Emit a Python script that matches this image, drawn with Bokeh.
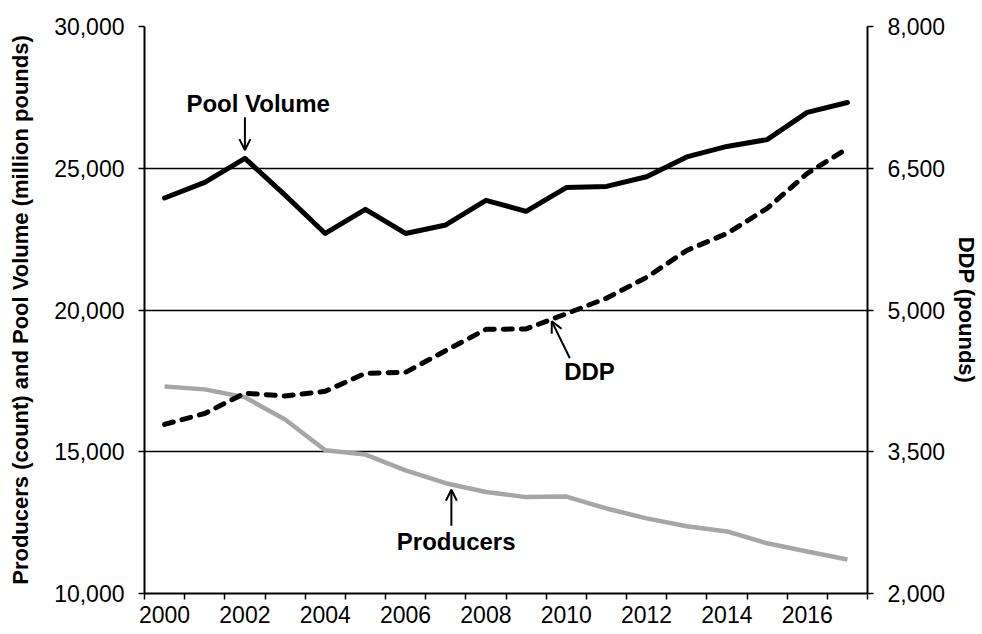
from bokeh.plotting import figure
from bokeh.models import (Range1d, LinearAxis, FixedTicker, NumeralTickFormatter,
                          Arrow, OpenHead, Label)
from bokeh.embed import file_html
from bokeh.resources import INLINE

years = list(range(2000, 2018))
pool_volume = [23950, 24500, 25350, 24050, 22700, 23550, 22700, 23000, 23870, 23480,
               24320, 24360, 24700, 25400, 25770, 26010, 26970, 27320]
ddp = [3790, 3905, 4120, 4090, 4140, 4330, 4340, 4570, 4795, 4800,
       4960, 5125, 5345, 5630, 5810, 6075, 6445, 6710]
producers = [17300, 17200, 16920, 16140, 15050, 14900, 14340, 13890, 13580, 13400,
             13420, 13000, 12650, 12370, 12190, 11770, 11480, 11200]
left_ticks = [10000, 15000, 20000, 25000, 30000]
right_ticks = [2000, 3500, 5000, 6500, 8000]
year_labels = [2000, 2002, 2004, 2006, 2008, 2010, 2012, 2014, 2016]

FONT = "Liberation Sans"

p = figure(width=982, height=634, output_backend="svg", toolbar_location=None,
           x_range=Range1d(years[0] - 0.5, years[-1] + 0.5),
           y_range=Range1d(left_ticks[0], left_ticks[-1]),
           min_border_left=144, min_border_right=112, min_border_top=26,
           min_border_bottom=41)
p.outline_line_color = None
p.background_fill_color = "white"
p.border_fill_color = "white"
p.extra_y_ranges = {"ddp": Range1d(right_ticks[0], right_ticks[-1])}

# x axis
xa = p.xaxis[0]
xa.ticker = FixedTicker(ticks=year_labels,
                        minor_ticks=[y - 0.5 for y in years] + [years[-1] + 0.5])
xa.major_tick_out = 0
xa.major_tick_in = 0
xa.minor_tick_out = 6
xa.minor_tick_in = 0
xa.minor_tick_line_color = "black"
xa.minor_tick_line_width = 1.5
xa.axis_line_color = "black"
xa.axis_line_width = 2
xa.major_label_standoff = 6
xa.major_label_text_font = FONT
xa.major_label_text_font_size = "23px"
xa.major_label_text_color = "black"

# left axis
ya = p.yaxis[0]
ya.ticker = FixedTicker(ticks=left_ticks)
ya.formatter = NumeralTickFormatter(format="0,0")
ya.minor_tick_line_color = None
ya.major_tick_out = 6
ya.major_tick_in = 0
ya.major_tick_line_width = 1.5
ya.axis_line_width = 2
ya.major_label_standoff = 14
ya.major_label_text_font = FONT
ya.major_label_text_font_size = "23px"
ya.major_label_text_color = "black"
ya.axis_label = "Producers (count) and Pool Volume (million pounds)"
ya.axis_label_text_font = FONT
ya.axis_label_text_font_size = "22px"
ya.axis_label_text_font_style = "bold"
ya.axis_label_text_color = "black"
ya.axis_label_standoff = 18

# right axis
ra = LinearAxis(y_range_name="ddp", ticker=FixedTicker(ticks=right_ticks),
                formatter=NumeralTickFormatter(format="0,0"),
                axis_label="DDP (pounds)")
ra.minor_tick_line_color = None
ra.major_tick_out = 6
ra.major_tick_in = 0
ra.major_tick_line_width = 1.5
ra.axis_line_width = 2
ra.major_label_standoff = 14
ra.major_label_text_font = FONT
ra.major_label_text_font_size = "23px"
ra.major_label_text_color = "black"
ra.axis_label_text_font = FONT
ra.axis_label_text_font_size = "22px"
ra.axis_label_text_font_style = "bold"
ra.axis_label_text_color = "black"
ra.axis_label_standoff = 6
p.add_layout(ra, "right")

p.xgrid.grid_line_color = None
p.ygrid.ticker = FixedTicker(ticks=left_ticks)
p.ygrid.grid_line_color = "black"
p.ygrid.grid_line_width = 1.5

# series
p.line(years, producers, line_color="#A6A6A6", line_width=4.5, line_join="round")
p.line(years, ddp, y_range_name="ddp", line_color="black", line_width=5,
       line_dash="9 9", line_cap="round", line_join="round")
p.line(years, pool_volume, line_color="black", line_width=5, line_join="round",
       line_cap="round")

# annotations
def arrow(x0, y0, x1, y1, rng="default"):
    p.add_layout(Arrow(end=OpenHead(size=11, line_width=2, line_color="black"),
                       x_start=x0, y_start=y0, x_end=x1, y_end=y1,
                       line_width=2, line_color="black",
                       y_range_name=rng))

def label(x, y, t, rng="default"):
    p.add_layout(Label(x=x, y=y, text=t, y_range_name=rng, text_font=FONT,
                       text_font_size="24px", text_font_style="bold",
                       text_color="black", text_align="center",
                       text_baseline="middle"))

label(years[2] + 0.33, pool_volume[2] + 1940, "Pool Volume")
arrow(years[2], pool_volume[2] + 1450, years[2], pool_volume[2] + 290)

label(years[10] + 0.58, ddp[10] - 610, "DDP", "ddp")
arrow(years[10] + 0.09, ddp[10] - 470, years[9] + 0.64, ddp[9] + 80, "ddp")

label(years[7] + 0.26, producers[7] - 2060, "Producers")
arrow(years[7] + 0.14, producers[7] - 1500, years[7] + 0.14, producers[7] - 230)

open("out.html", "w").write(file_html(p, INLINE))
